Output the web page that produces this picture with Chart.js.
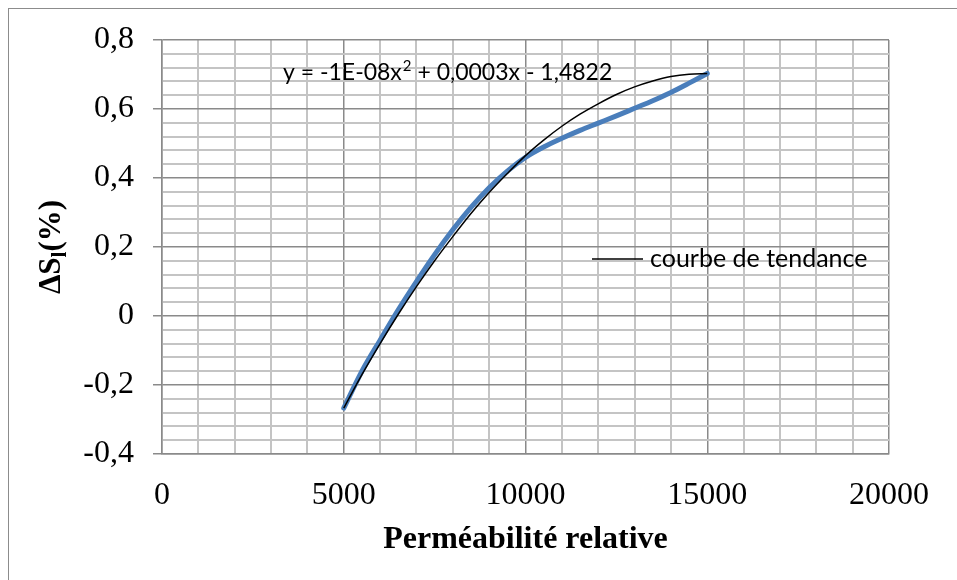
<!DOCTYPE html>
<html>
<head>
<meta charset="utf-8">
<script src="https://cdn.jsdelivr.net/npm/chart.js@4.4.0/dist/chart.umd.min.js"></script>
<style>
  html, body { margin: 0; padding: 0; background: #fff; }
  #wrap { width: 957px; height: 580px; }
</style>
</head>
<body>
<div id="wrap"><canvas id="chart__1" width="957" height="580"></canvas></div>
<script>
"use strict";

const permeability = [5000, 5500, 6000, 6500, 7000, 7500, 8000, 8500, 9000, 9500, 10000,
  10500, 11000, 11500, 12000, 12500, 13000, 13500, 14000, 14500, 15000];
const deltaSl = [-0.267, -0.16, -0.07, 0.018, 0.1, 0.178, 0.25, 0.315, 0.372, 0.42, 0.46,
  0.49, 0.515, 0.538, 0.559, 0.58, 0.602, 0.624, 0.648, 0.675, 0.703];

// trend curve
const trendX = [5000, 5500, 6000, 6500, 7000, 7500, 8000, 8500, 9000, 9500, 10000,
  10500, 11000, 11500, 12000, 12500, 13000, 13500, 14000, 14500, 15000];
const trendY = [-0.267, -0.17, -0.08, 0.005, 0.085, 0.16, 0.23, 0.297, 0.358, 0.413, 0.465,
  0.51, 0.55, 0.585, 0.615, 0.642, 0.664, 0.681, 0.694, 0.701, 0.703];

const xTickLabels = [0, 5000, 10000, 15000, 20000];
const yTickLabels = [-0.4, -0.2, 0, 0.2, 0.4, 0.6, 0.8];

const equationParts = ["y = -1E-08x", "2", " + 0,0003x - 1,4822"];
const legendText = "courbe de tendance";
const xTitleText = "Perméabilité relative";

const MAJOR = "#8a8a8a";
const MINOR = "#c4c4c4";
const SERIF = "'Liberation Serif', 'Times New Roman', serif";
const SANS = "Lato, 'Open Sans', sans-serif";

function round2(v) {
  return Math.round(v * 100) / 100;
}
function isMajorY(v) {
  return yTickLabels.includes(round2(v));
}
function isMajorX(v) {
  return xTickLabels.includes(Math.round(v));
}

const extras = {
  id: "extras",
  beforeDraw(chart) {
    const ctx = chart.ctx;
    ctx.save();
    ctx.fillStyle = "#fff";
    ctx.fillRect(0, 0, chart.width, chart.height);
    ctx.strokeStyle = "#8c8c8c";
    ctx.lineWidth = 1;
    ctx.strokeRect(8.5, 8.5, 1200, 1200);
    ctx.restore();
  },
  afterDraw(chart) {
    const ctx = chart.ctx;
    const a = chart.chartArea;
    ctx.save();

    // equation, with a raised exponent
    ctx.fillStyle = "#000";
    ctx.textBaseline = "alphabetic";
    ctx.textAlign = "left";
    let ex = a.left + 121;
    const ey = 80;
    ctx.font = "23px " + SANS;
    ctx.fillText(equationParts[0], ex, ey);
    ex += ctx.measureText(equationParts[0]).width + 1;
    ctx.font = "15px " + SANS;
    ctx.fillText(equationParts[1], ex, ey - 9);
    ex += ctx.measureText(equationParts[1]).width;
    ctx.font = "23px " + SANS;
    ctx.fillText(equationParts[2], ex, ey);

    // legend
    ctx.strokeStyle = "#000";
    ctx.lineWidth = 1.5;
    ctx.beginPath();
    ctx.moveTo(592, 259);
    ctx.lineTo(643, 259);
    ctx.stroke();
    ctx.font = "25px " + SANS;
    ctx.textBaseline = "middle";
    ctx.fillText(legendText, 650, 259);

    // x title
    ctx.font = "bold 32px " + SERIF;
    ctx.textAlign = "center";
    ctx.textBaseline = "alphabetic";
    ctx.fillText(xTitleText, (a.left + a.right) / 2, 548);

    // y title with subscript
    const cy = (a.top + a.bottom) / 2;
    ctx.translate(60, cy);
    ctx.rotate(-Math.PI / 2);
    const big = "bold 31px " + SERIF;
    const small = "bold 21px " + SERIF;
    ctx.textAlign = "left";
    ctx.font = big;
    const w1 = ctx.measureText("ΔS").width;
    const w3 = ctx.measureText("(%)").width;
    ctx.font = small;
    const w2 = ctx.measureText("l").width;
    let x = -(w1 + w2 + w3) / 2;
    ctx.font = big;
    ctx.fillText("ΔS", x, 0);
    x += w1;
    ctx.font = small;
    ctx.fillText("l", x, 6);
    x += w2;
    ctx.font = big;
    ctx.fillText("(%)", x, 0);
    ctx.restore();
  },
};

const chartSelector__1 = document.getElementById("chart__1").getContext("2d");

const chart__1 = new Chart(chartSelector__1, {
  type: "line",
  data: {
    datasets: [
      {
        label: legendText,
        data: trendX.map((x, i) => ({ x: x, y: trendY[i] })),
        borderColor: "#000",
        borderWidth: 1.5,
        pointRadius: 0,
        cubicInterpolationMode: "monotone",
        fill: false,
      },
      {
        label: "ΔSl",
        data: permeability.map((x, i) => ({ x: x, y: deltaSl[i] })),
        borderColor: "#4a7ebb",
        borderWidth: 5,
        pointRadius: 0,
        borderCapStyle: "round",
        cubicInterpolationMode: "monotone",
        fill: false,
      },
    ],
  },
  options: {
    responsive: false,
    animation: false,
    devicePixelRatio: 1,
    layout: { padding: { top: 40, right: 68, left: 0, bottom: 0 } },
    plugins: {
      legend: { display: false },
      tooltip: { enabled: false },
    },
    scales: {
      x: {
        type: "linear",
        min: 0,
        max: 20000,
        afterFit: (scale) => { scale.height = 126; },
        afterBuildTicks: (scale) => {
          const t = [];
          for (let v = 0; v <= 20000; v += 1000) t.push({ value: v });
          scale.ticks = t;
        },
        grid: {
          color: (c) => (isMajorX(c.tick.value) ? MAJOR : MINOR),
          lineWidth: (c) => (isMajorX(c.tick.value) ? 1.5 : 2),
          drawTicks: false,
        },
        border: { color: MAJOR, width: 1.5 },
        ticks: {
          autoSkip: false,
          maxRotation: 0,
          padding: 22,
          color: "#000",
          font: { family: SERIF, size: 32 },
          callback: (v) => (isMajorX(v) ? String(v) : ""),
        },
      },
      y: {
        min: -0.4,
        max: 0.8,
        afterFit: (scale) => { scale.width = 162; },
        afterBuildTicks: (scale) => {
          const t = [];
          for (let i = 0; i <= 30; i++) t.push({ value: round2(-0.4 + i * 0.04) });
          scale.ticks = t;
        },
        grid: {
          color: (c) => (isMajorY(c.tick.value) ? MAJOR : MINOR),
          tickColor: (c) => (isMajorY(c.tick.value) ? MAJOR : "rgba(0,0,0,0)"),
          lineWidth: (c) => (isMajorY(c.tick.value) ? 1.5 : 2),
          tickLength: 9,
        },
        border: { color: MAJOR, width: 1.5 },
        ticks: {
          autoSkip: false,
          padding: 19,
          color: "#000",
          font: { family: SERIF, size: 32 },
          callback: (v) => (isMajorY(v) ? String(round2(v)).replace(".", ",") : ""),
        },
      },
    },
  },
  plugins: [extras],
});
</script>
</body>
</html>
